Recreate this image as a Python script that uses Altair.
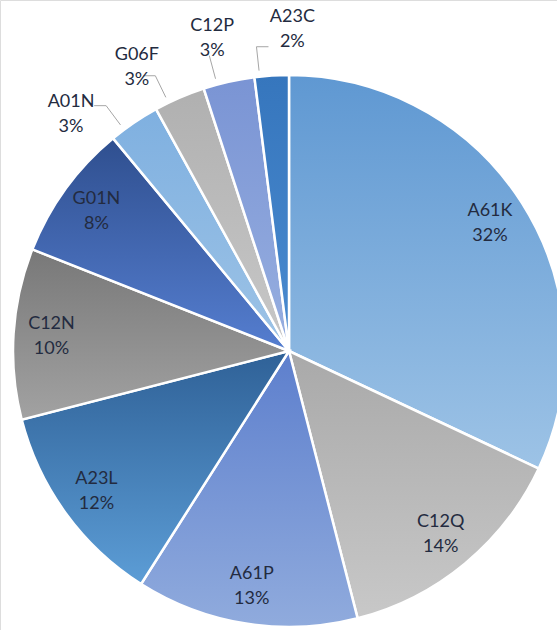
import math
import altair as alt
import pandas as pd

# ---- data ----
categories = ["A61K", "C12Q", "A61P", "A23L", "C12N", "G01N", "A01N", "G06F", "C12P", "A23C"]
shares = [32, 14, 13, 12, 10, 8, 3, 3, 3, 2]
top_colors = ["#5f98d2", "#a9a9a9", "#5d7fcd", "#2f6197", "#787878",
              "#2f4f8f", "#7fb0e0", "#b0b0b0", "#7a94d4", "#3676bd"]
bottom_colors = ["#9dc3e6", "#c8c8c8", "#90abdd", "#5c9dd6", "#a2a2a2",
                 "#557ed0", "#9dc3e6", "#c8c8c8", "#97afe0", "#4a8bd0"]

# ---- layout constants ----
W, H = 557, 630
CX, CY, R = 289, 351, 276
INSIDE_R = 238
OUT_R = 322
OUT_CENTER, OUT_SPACING = 339.0, 14.4
FONT = "Lato"
FS = 18
TXT = "#232b40"

total = sum(shares)
rows, lines = [], []
cum = 0
outside = [i for i, v in enumerate(shares) if v < 5]
for i, (c, v) in enumerate(zip(categories, shares)):
    t0 = cum / total * 2 * math.pi
    mid = (cum + v / 2) / total * 360
    cum += v
    t1 = cum / total * 2 * math.pi
    if v >= 5:
        a, r = mid, INSIDE_R
    else:
        k = outside.index(i)
        a = OUT_CENTER + (k - (len(outside) - 1) / 2) * OUT_SPACING
        r = OUT_R
        la = math.radians(mid - 2.5)
        ex, ey = CX + 282 * math.sin(la), CY - 282 * math.cos(la)
        bx, by = CX + 306 * math.sin(la), CY - 306 * math.cos(la)
    lx, ly = CX + r * math.sin(math.radians(a)), CY - r * math.cos(math.radians(a))
    rows.append({"cat": c, "value": v, "idx": i, "pct": f"{v}%", "lx": lx, "ly": ly,
                 "t0": t0, "t1": t1})
    if v < 5:
        pts = [(ex, ey), (bx, by)]
        if abs(lx - bx) > 10:
            pts.append((bx + (12 if lx > bx else -12), by))
        for j, (px, py) in enumerate(pts):
            lines.append({"cat": c, "o": j, "px": px, "py": py})

df = pd.DataFrame(rows)
ldf = pd.DataFrame(lines)

xs = alt.Scale(domain=[0, W])
ys = alt.Scale(domain=[0, H], reverse=True)

slices = []
for c, ct, cb in zip(categories, top_colors, bottom_colors):
    grad = alt.LinearGradient(
        gradient="linear", x1=0, y1=0, x2=0, y2=1,
        stops=[alt.GradientStop(color=ct, offset=0), alt.GradientStop(color=cb, offset=1)],
    )
    slices.append(
        alt.Chart(df).transform_filter(alt.datum.cat == c)
        .mark_arc(fill=grad, stroke="white", strokeWidth=2.5)
        .encode(
            theta=alt.Theta("t0:Q", scale=None),
            theta2=alt.Theta2("t1:Q"),
            radius=alt.value(R),
            x=alt.value(CX),
            y=alt.value(CY),
        )
    )

leaders = alt.Chart(ldf).mark_line(color="#a6a6a6", strokeWidth=1).encode(
    x=alt.X("px:Q", scale=xs, axis=None),
    y=alt.Y("py:Q", scale=ys, axis=None),
    detail="cat:N",
    order="o:Q",
)

base_txt = alt.Chart(df).encode(
    x=alt.X("lx:Q", scale=xs, axis=None),
    y=alt.Y("ly:Q", scale=ys, axis=None),
)
name_txt = base_txt.mark_text(font=FONT, fontSize=FS, color=TXT, dy=-12, align="center", baseline="middle").encode(text="cat:N")
pct_txt = base_txt.mark_text(font=FONT, fontSize=FS, color=TXT, dy=13, align="center", baseline="middle").encode(text="pct:N")

chart = alt.layer(*slices, leaders, name_txt, pct_txt).properties(
    width=W, height=H, padding=0, autosize=alt.AutoSizeParams(type="none")
).configure_view(stroke=None).configure(background="white")

chart.save("out.html", embed_options={"renderer": "svg", "actions": False})
